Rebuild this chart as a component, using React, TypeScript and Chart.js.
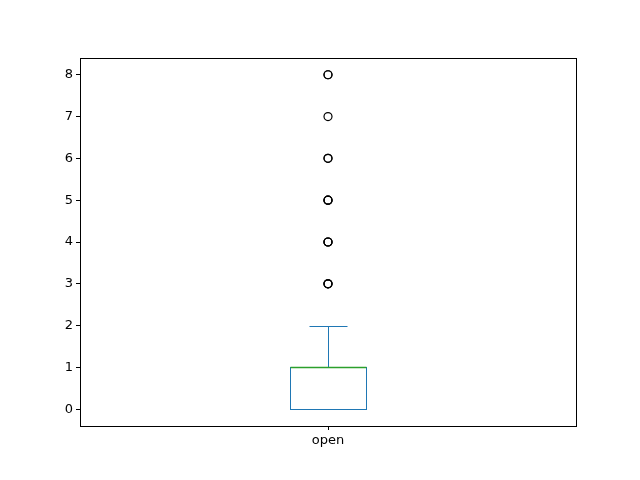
import React, { useEffect, useRef } from "react";
import { Chart, registerables } from "chart.js";
Chart.register(...registerables);

const categories = ["open"];
const q1 = [0];
const median = [1];
const q3 = [1];
const whiskerLow = [0];
const whiskerHigh = [2];
const outliers = [3, 3, 3, 4, 4, 4, 5, 5, 5, 6, 6, 7, 8, 8];
const yTicks = [0, 1, 2, 3, 4, 5, 6, 7, 8];

const px = (v: number) => Math.round(v) + 0.5;

const boxPlugin = {
  id: "boxDraw",
  afterDatasetsDraw(chart: any) {
    const { ctx, scales, chartArea } = chart;
    const x = scales.x, y = scales.y;
    ctx.save();
    categories.forEach((_, i) => {
      const cx = i + 1;
      const l = px(x.getPixelForValue(cx - 0.0766)), r = px(x.getPixelForValue(cx + 0.0766));
      const cl = px(x.getPixelForValue(cx - 0.0375)), cr = px(x.getPixelForValue(cx + 0.0375));
      const xc = px(x.getPixelForValue(cx));
      const yq1 = px(y.getPixelForValue(q1[i])), yq3 = px(y.getPixelForValue(q3[i]));
      const ywh = px(y.getPixelForValue(whiskerHigh[i])), ywl = px(y.getPixelForValue(whiskerLow[i]));
      const ym = px(y.getPixelForValue(median[i]));
      ctx.lineWidth = 1;
      ctx.strokeStyle = "#1f77b4";
      ctx.strokeRect(l, yq3, r - l, yq1 - yq3);
      ctx.beginPath();
      ctx.moveTo(xc, yq3); ctx.lineTo(xc, ywh);
      ctx.moveTo(xc, yq1); ctx.lineTo(xc, ywl);
      ctx.moveTo(cl, ywh); ctx.lineTo(cr, ywh);
      ctx.moveTo(cl, ywl); ctx.lineTo(cr, ywl);
      ctx.stroke();
      ctx.strokeStyle = "#2ca02c";
      ctx.lineWidth = 1.5;
      ctx.beginPath();
      ctx.moveTo(l, ym); ctx.lineTo(r, ym);
      ctx.stroke();
    });
    ctx.lineWidth = 1;
    ctx.strokeStyle = "#000";
    ctx.strokeRect(px(chartArea.left), px(chartArea.top), Math.round(chartArea.right - chartArea.left), Math.round(chartArea.bottom - chartArea.top));
    ctx.restore();
  },
};

export default function App() {
  const ref = useRef<HTMLCanvasElement>(null);
  useEffect(() => {
    const font = { family: "DejaVu Sans", size: 13 };
    const chart = new Chart(ref.current!, {
      type: "scatter",
      data: {
        datasets: [{
          data: outliers.map((v) => ({ x: 1, y: v })),
          pointRadius: 4,
          pointBorderColor: "#000",
          pointBackgroundColor: "rgba(0,0,0,0)",
          pointBorderWidth: 1.2,
        }],
      },
      options: {
        animation: false,
        responsive: false,
        layout: { padding: { top: 58, right: 64, left: 0, bottom: 0 } },
        plugins: { legend: { display: false }, tooltip: { enabled: false } },
        scales: {
          x: {
            type: "linear", min: 0.5, max: 1.5,
            afterBuildTicks: (s: any) => { s.ticks = [{ value: 1 }]; },
            afterFit: (s: any) => { s.height = 54; },
            ticks: { font, color: "#000", callback: () => categories[0], maxRotation: 0 },
            grid: { drawOnChartArea: false, tickLength: 4, color: "#000" },
            border: { display: false },
          },
          y: {
            min: -0.4, max: 8.4,
            afterBuildTicks: (s: any) => { s.ticks = yTicks.map((v) => ({ value: v })); },
            afterFit: (s: any) => { s.width = 80; },
            ticks: { font, color: "#000" },
            grid: { drawOnChartArea: false, tickLength: 4, color: "#000" },
            border: { display: false },
          },
        },
      },
      plugins: [boxPlugin],
    });
    return () => chart.destroy();
  }, []);
  return (
    <div style={{ position: "absolute", left: 0, top: 0, width: 640, height: 480, background: "#fff" }}>
      <canvas ref={ref} width={640} height={480} />
    </div>
  );
}
